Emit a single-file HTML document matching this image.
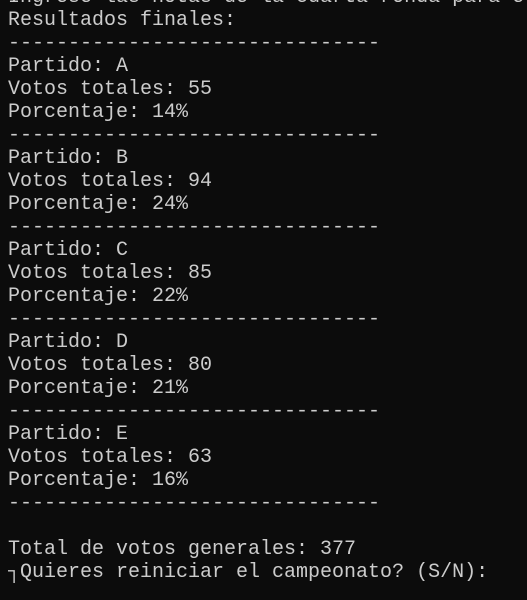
<!DOCTYPE html>
<html><head><meta charset="utf-8">
<style>
html,body{margin:0;padding:0;background:#0c0c0c;width:527px;height:600px;overflow:hidden}
pre{position:absolute;left:8px;top:-14px;margin:0;font-family:"Liberation Mono","DejaVu Sans Mono",monospace;font-size:20px;line-height:23px;color:#cccccc;white-space:pre}
</style></head>
<body>
<pre>Ingrese las notas de la cuarta ronda para el
Resultados finales:
-------------------------------
Partido: A
Votos totales: 55
Porcentaje: 14%
-------------------------------
Partido: B
Votos totales: 94
Porcentaje: 24%
-------------------------------
Partido: C
Votos totales: 85
Porcentaje: 22%
-------------------------------
Partido: D
Votos totales: 80
Porcentaje: 21%
-------------------------------
Partido: E
Votos totales: 63
Porcentaje: 16%
-------------------------------

Total de votos generales: 377
┐Quieres reiniciar el campeonato? (S/N):</pre>
</body></html>
